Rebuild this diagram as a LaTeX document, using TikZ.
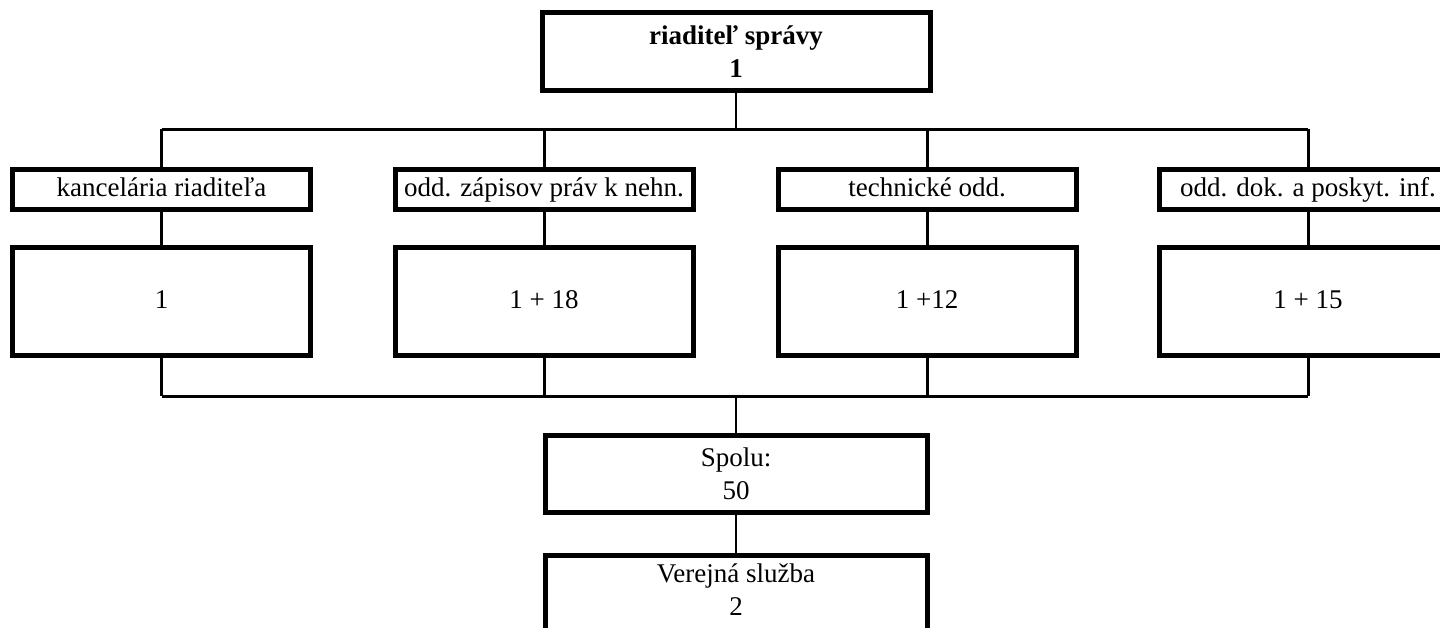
\documentclass[tikz,border=0pt]{standalone}
\usepackage{fontspec}
\setmainfont{Liberation Serif}
\begin{document}
\begin{tikzpicture}[x=1pt,y=-1pt,
  box/.style={draw=black, line width=5pt, fill=white, inner sep=0pt, align=center,
    font=\fontsize{27}{33}\selectfont},
  one/.style={text height=19pt, text depth=6pt},
  small/.style={box, one, minimum width=298pt, minimum height=40pt},
  big/.style={box, one, minimum width=298pt, minimum height=108pt},
  thinline/.style={line width=1.6pt},
  busline/.style={line width=3pt},
  txt/.style={inner sep=0pt, align=center, font=\fontsize{27}{33}\selectfont}]
\useasboundingbox (0,0) rectangle (1440,627);

% top
\node[box, minimum width=388pt, minimum height=78pt] (top) at (736,51.5)
  {\textbf{riaditeľ správy}\\\textbf{1}};

% row 1
\node[small] (a1) at (161.5,189.5) {kancelária riaditeľa};
\node[small] (b1) at (544,189.5) {odd. zápisov práv k nehn.};
\node[small] (c1) at (927,189.5) {technické odd.};
\node[small] (d1) at (1308,189.5) {odd. dok. a poskyt. inf.};

% row 2
\node[big] (a2) at (161.5,301.5) {1};
\node[big] (b2) at (544,301.5) {1 + 18};
\node[big] (c2) at (927,301.5) {1 +12};
\node[big] (d2) at (1308,301.5) {1 + 15};

% bottom
\node[box, minimum width=382pt, minimum height=77pt] (sp) at (736,474) {Spolu:\\50};
\node[box, minimum width=382pt, minimum height=150pt, anchor=north] (vs) at (736,552.5) {};
\node[txt, anchor=north] (vst) at ([yshift=-11pt]vs.north) {Verejná služba\\2};

\coordinate (busT) at (736,129);
\coordinate (busB) at (736,396);

% top bus
\draw[thinline] (top.south) -- (top.south |- busT);
\draw[busline] (a1.north |- busT) -- (d1.north |- busT);
\foreach \n in {a1,b1,c1,d1} \draw[busline] (\n.north) -- (\n.north |- busT);
% row connectors
\draw[busline] (a1.south) -- (a2.north);
\draw[busline] (b1.south) -- (b2.north);
\draw[busline] (c1.south) -- (c2.north);
\draw[busline] (d1.south) -- (d2.north);
% bottom bus
\foreach \n in {a2,b2,c2,d2} \draw[busline] (\n.south) -- (\n.south |- busB);
\draw[busline] (a2.south |- busB) -- (d2.south |- busB);
\draw[thinline] (busB) -- (sp.north);
\draw[thinline] (sp.south) -- (vs.north);
\end{tikzpicture}
\end{document}
